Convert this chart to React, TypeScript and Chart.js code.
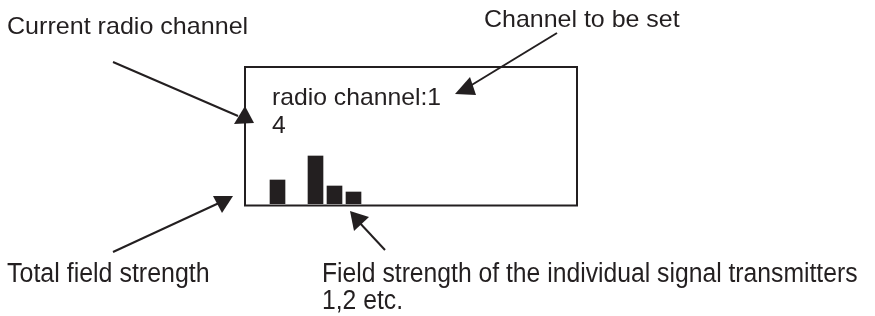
import React, { useEffect, useRef } from "react";
import { Chart, registerables } from "chart.js";

Chart.register(...registerables);

// Data: field strength per radio channel (channel 2 empty)
const channels = [1, 2, 3, 4, 5];
const fieldStrengths = [4, 0, 8, 3, 2];

// Annotation texts
const labelCurrent = "Current radio channel";
const labelToSet = "Channel to be set";
const displayLine1 = "radio channel:1";
const displayLine2 = "4";
const labelTotal = "Total field strength";
const labelIndividual1 = "Field strength of the individual signal transmitters";
const labelIndividual2 = "1,2 etc.";

const INK = "#231f20";
const FONT = '"Liberation Sans", Arial, Helvetica, sans-serif';

function drawText(ctx: CanvasRenderingContext2D, text: string, x: number, y: number, size: number, sx: number) {
  ctx.save();
  ctx.translate(x, y);
  ctx.scale(sx, 1);
  ctx.font = `${size}px ${FONT}`;
  ctx.fillStyle = INK;
  ctx.textBaseline = "alphabetic";
  ctx.textAlign = "left";
  ctx.fillText(text, 0, 0);
  ctx.restore();
}

function arrow(ctx: CanvasRenderingContext2D, line: number[], tri: number[]) {
  ctx.save();
  ctx.strokeStyle = INK;
  ctx.fillStyle = INK;
  ctx.lineWidth = 2;
  ctx.beginPath();
  ctx.moveTo(line[0], line[1]);
  ctx.lineTo(line[2], line[3]);
  ctx.stroke();
  ctx.beginPath();
  ctx.moveTo(tri[0], tri[1]);
  ctx.lineTo(tri[2], tri[3]);
  ctx.lineTo(tri[4], tri[5]);
  ctx.closePath();
  ctx.fill();
  ctx.restore();
}

const annotations = {
  id: "annotations",
  afterDraw(chart: any) {
    const ctx: CanvasRenderingContext2D = chart.ctx;
    const ca = chart.chartArea;
    // display frame
    ctx.save();
    ctx.strokeStyle = INK;
    ctx.lineWidth = 2;
    ctx.strokeRect(ca.left, ca.top, ca.right - ca.left, ca.bottom + 1.5 - ca.top);
    ctx.restore();

    // texts
    drawText(ctx, labelCurrent, 7, 34, 24, 1.045);
    drawText(ctx, labelToSet, 484, 27, 24, 1.04);
    drawText(ctx, displayLine1, 272, 105, 24, 1.03);
    drawText(ctx, displayLine2, 272, 133, 24, 1.03);
    drawText(ctx, labelTotal, 7, 282, 27, 0.925);
    drawText(ctx, labelIndividual1, 322, 282, 27, 0.915);
    drawText(ctx, labelIndividual2, 322, 309, 27, 0.915);

    // arrows
    arrow(ctx, [113, 62, 238, 116], [245, 106, 234, 124, 254, 123]);
    arrow(ctx, [557, 33, 470, 86], [455, 94, 470, 77, 476, 95]);
    arrow(ctx, [113, 252, 219, 203], [213, 196, 233, 196, 222, 213]);
    arrow(ctx, [385, 250, 358, 221], [350, 211, 369, 217, 354, 231]);
  },
};

export default function App() {
  const ref = useRef<HTMLCanvasElement | null>(null);
  useEffect(() => {
    if (!ref.current) return;
    const chart = new Chart(ref.current, {
      type: "bar",
      data: {
        datasets: [
          {
            data: channels.map((c, i) => ({ x: c, y: fieldStrengths[i] })),
            backgroundColor: (c: any) => (c.raw && c.raw.y > 0 ? INK : "rgba(0,0,0,0)"),
            borderWidth: 0,
            borderSkipped: false,
            barThickness: 15,
          },
        ],
      },
      options: {
        responsive: false,
        animation: false,
        devicePixelRatio: 1,
        layout: { padding: { left: 245, right: 298, top: 67, bottom: 112 } },
        plugins: { legend: { display: false }, tooltip: { enabled: false } },
        scales: {
          x: { type: "linear", display: false, offset: false, bounds: "data", min: -0.7105, max: 16.763 },
          y: { display: false, min: 0, max: 22.83 },
        },
      },
      plugins: [annotations],
    });
    return () => chart.destroy();
  }, []);
  return (
    <div style={{ position: "absolute", left: 0, top: 0, width: 875, height: 316, background: "#fff" }}>
      <canvas ref={ref} width={875} height={316} />
    </div>
  );
}
